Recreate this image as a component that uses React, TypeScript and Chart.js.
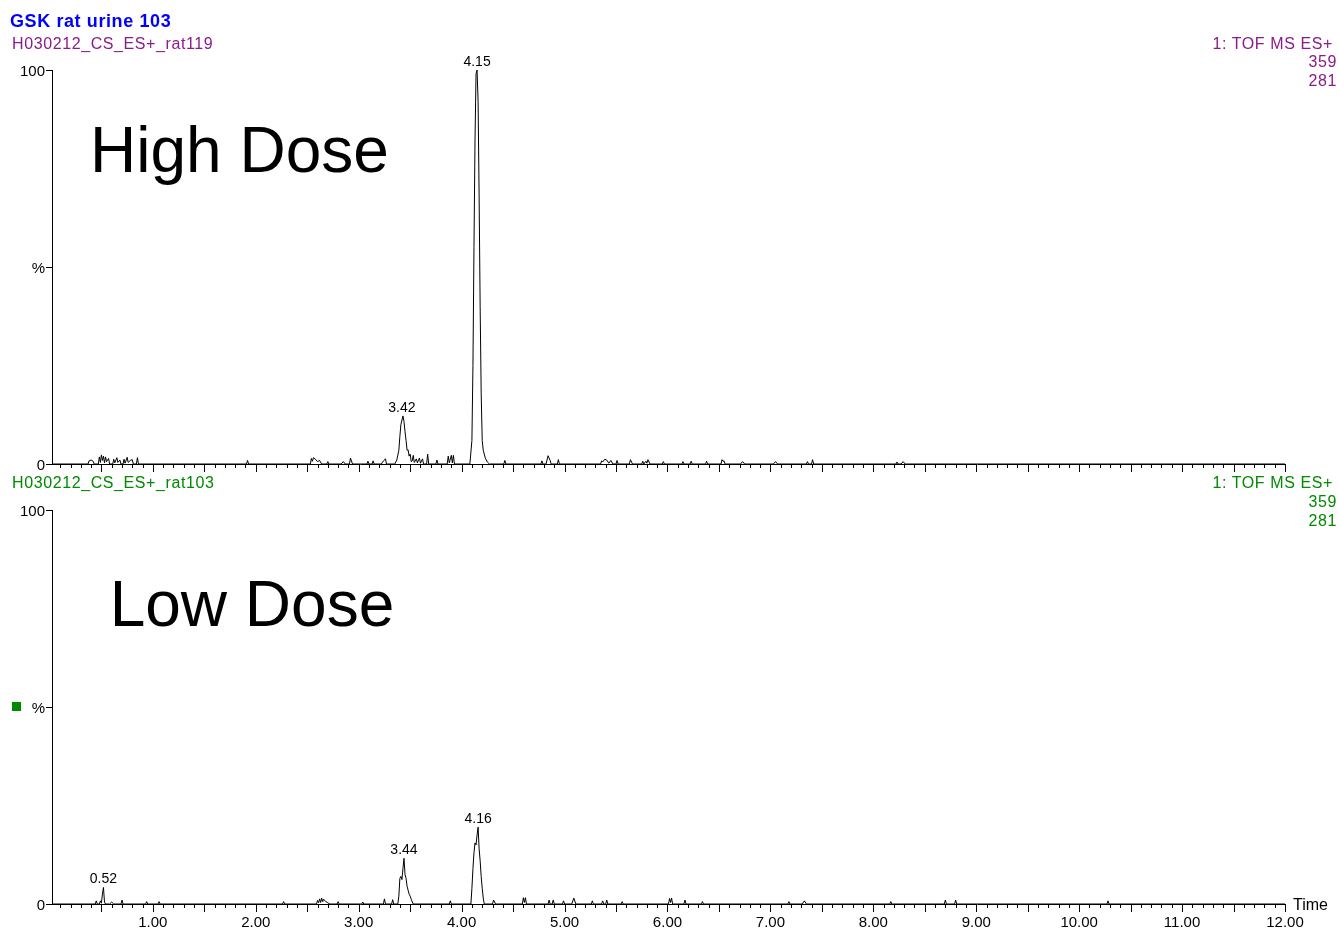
import React, { useEffect, useRef } from 'react';
import { Chart, registerables } from 'chart.js';

Chart.register(...registerables);

// ---------------- data ----------------
const TIME_MIN = 0.02;
const TIME_MAX = 12.0;
const timeLabelValues = [1, 2, 3, 4, 5, 6, 7, 8, 9, 10, 11, 12];
const yTickValues = [0, 50, 100];
const yTickText = ['0', '%', '100'];

const highDoseTrace: [number, number][] = [
  [0.02, 0], [0.37, 0], [0.38, 0.8], [0.40, 1.0], [0.42, 0.7], [0.43, 0],
  [0.47, 0], [0.48, 1.8], [0.49, 0.4], [0.50, 2.3], [0.51, 0.9], [0.52, 2.0], [0.53, 0.3], [0.54, 1.8], [0.55, 0.6], [0.57, 1.4], [0.58, 0],
  [0.61, 0], [0.62, 1.2], [0.63, 0.3], [0.65, 1.6], [0.66, 0.4], [0.68, 1.0], [0.69, 0],
  [0.71, 0], [0.72, 1.2], [0.73, 0.2], [0.75, 1.7], [0.76, 0.4], [0.78, 0.9], [0.80, 1.1], [0.81, 0],
  [0.84, 0], [0.85, 1.6], [0.86, 0],
  [1.91, 0], [1.92, 0.9], [1.93, 0],
  [2.53, 0], [2.54, 1.4], [2.55, 0.7], [2.56, 1.6], [2.58, 1.2], [2.60, 0.6], [2.62, 0.9], [2.64, 0],
  [2.69, 0], [2.70, 0.6], [2.71, 0],
  [2.83, 0], [2.85, 0.6], [2.87, 0],
  [2.91, 0], [2.92, 1.5], [2.94, 0],
  [3.08, 0], [3.09, 0.7], [3.10, 0],
  [3.13, 0], [3.14, 0.8], [3.15, 0],
  [3.22, 0], [3.24, 0.8], [3.26, 1.3], [3.27, 0],
  [3.35, 0], [3.37, 1.0], [3.39, 3.5], [3.40, 7.0], [3.41, 10.0], [3.43, 12.2], [3.44, 10.8], [3.45, 8.2], [3.46, 6.0], [3.47, 3.5], [3.48, 3.6], [3.49, 2.0], [3.50, 2.5], [3.51, 0.6], [3.52, 0.8], [3.53, 2.2], [3.54, 0.4], [3.56, 1.3], [3.57, 0.3], [3.59, 1.5], [3.60, 0.2], [3.62, 1.3], [3.63, 0],
  [3.66, 0], [3.67, 2.5], [3.68, 0],
  [3.75, 0], [3.76, 1.0], [3.77, 0],
  [3.86, 0], [3.87, 2.0], [3.88, 0.3], [3.90, 2.2], [3.91, 0.3], [3.92, 2.2], [3.93, 0],
  [4.08, 0], [4.10, 6], [4.11, 25], [4.12, 55], [4.13, 82], [4.14, 99], [4.15, 100], [4.16, 92], [4.17, 68], [4.18, 40], [4.19, 18], [4.20, 6], [4.21, 3.5], [4.23, 1.5], [4.25, 0.5], [4.27, 0],
  [4.41, 0], [4.42, 0.9], [4.43, 0],
  [4.77, 0], [4.78, 0.8], [4.79, 0],
  [4.82, 0], [4.84, 2.1], [4.86, 0.9], [4.87, 0],
  [4.93, 0], [4.94, 1.1], [4.95, 0],
  [5.35, 0], [5.36, 0.8], [5.37, 0.5], [5.39, 1.2], [5.41, 1.0], [5.43, 0.2], [5.45, 0.9], [5.47, 0],
  [5.50, 0], [5.51, 0.9], [5.52, 0],
  [5.63, 0], [5.64, 1.1], [5.66, 0],
  [5.75, 0], [5.76, 0.7], [5.77, 0], [5.79, 0.7], [5.80, 0.2], [5.81, 1.1], [5.83, 0],
  [5.95, 0], [5.96, 0.6], [5.97, 0],
  [6.14, 0], [6.15, 0.6], [6.16, 0],
  [6.22, 0], [6.23, 0.7], [6.24, 0],
  [6.37, 0], [6.38, 0.7], [6.39, 0],
  [6.52, 0], [6.53, 1.1], [6.54, 0.7], [6.55, 0.8], [6.56, 0],
  [6.71, 0], [6.73, 0.6], [6.75, 0],
  [7.03, 0], [7.05, 0.6], [7.07, 0],
  [7.35, 0], [7.36, 0.6], [7.37, 0], [7.40, 0], [7.41, 1.1], [7.42, 0],
  [8.22, 0], [8.23, 0.5], [8.24, 0], [8.27, 0], [8.29, 0.6], [8.31, 0],
  [12.0, 0],
];

const lowDoseTrace: [number, number][] = [
  [0.02, 0], [0.44, 0], [0.45, 0.8], [0.46, 0], [0.48, 0], [0.49, 0.8], [0.50, 0.2], [0.51, 2.5], [0.52, 4.2], [0.53, 0.5], [0.54, 0],
  [0.58, 0], [0.60, 0.5], [0.62, 0],
  [0.69, 0], [0.70, 1.0], [0.71, 0],
  [0.93, 0], [0.94, 0.6], [0.95, 0],
  [1.05, 0], [1.06, 0.6], [1.07, 0],
  [2.26, 0], [2.27, 0.6], [2.28, 0],
  [2.59, 0], [2.60, 0.9], [2.61, 0.3], [2.62, 1.3], [2.63, 0.4], [2.64, 1.5], [2.65, 0.6], [2.66, 1.2], [2.68, 0.6], [2.70, 0.3], [2.72, 0],
  [2.79, 0], [2.80, 0.6], [2.81, 0],
  [3.03, 0], [3.04, 0.5], [3.05, 0],
  [3.24, 0], [3.25, 1.3], [3.26, 0],
  [3.32, 0], [3.33, 1.1], [3.34, 0],
  [3.38, 0], [3.39, 2.0], [3.40, 6.5], [3.41, 7.0], [3.42, 6.2], [3.43, 9.0], [3.44, 11.6], [3.45, 7.5], [3.46, 6.5], [3.47, 4.5], [3.48, 3.5], [3.49, 2.5], [3.50, 2.0], [3.51, 1.2], [3.53, 0],
  [3.88, 0], [3.89, 0.8], [3.90, 0],
  [4.09, 0], [4.10, 4], [4.11, 9], [4.12, 13], [4.13, 15.5], [4.14, 15.0], [4.15, 17.5], [4.16, 19.5], [4.17, 14], [4.18, 11], [4.19, 7], [4.20, 4], [4.21, 1.5], [4.22, 0],
  [4.30, 0], [4.31, 1.0], [4.33, 0],
  [4.59, 0], [4.60, 1.6], [4.61, 0.4], [4.62, 1.6], [4.63, 0],
  [4.84, 0], [4.85, 1.0], [4.86, 0],
  [4.88, 0], [4.89, 1.0], [4.90, 0],
  [4.98, 0], [4.99, 0.8], [5.00, 0],
  [5.07, 0], [5.09, 1.5], [5.11, 0],
  [5.26, 0], [5.27, 0.8], [5.28, 0],
  [5.36, 0], [5.37, 0.8], [5.38, 0], [5.40, 0], [5.41, 1.0], [5.42, 0],
  [5.55, 0], [5.56, 0.6], [5.57, 0],
  [6.01, 0], [6.02, 1.4], [6.03, 0.4], [6.04, 1.5], [6.05, 0],
  [6.16, 0], [6.17, 1.0], [6.18, 0],
  [6.33, 0], [6.34, 0.6], [6.35, 0],
  [7.17, 0], [7.18, 0.6], [7.19, 0],
  [7.31, 0], [7.33, 0.8], [7.35, 0],
  [8.16, 0], [8.17, 0.6], [8.18, 0],
  [8.69, 0], [8.70, 1.0], [8.71, 0],
  [8.79, 0], [8.80, 1.0], [8.81, 0],
  [10.27, 0], [10.28, 0.8], [10.29, 0],
  [12.0, 0],
];

const highDosePeakTimes = [3.42, 4.15];
const highDosePeakHeights = [12.2, 100];
const lowDosePeakTimes = [0.52, 3.44, 4.16];
const lowDosePeakHeights = [4.2, 11.6, 19.5];

// ---------------- drawing ----------------
const FONT = '"Liberation Sans", Arial, Helvetica, sans-serif';

const chromPlugin = {
  id: 'chrom',
  afterDraw(chart: any, _args: any, opts: any) {
    const { ctx, chartArea, scales } = chart;
    const x = scales.x;
    const y = scales.y;
    ctx.save();
    // minor / major time ticks
    ctx.strokeStyle = '#000';
    ctx.lineWidth = 1;
    for (let i = 1; i <= 120; i++) {
      const px = Math.round(x.getPixelForValue(i / 10)) + 0.5;
      const len = i % 5 === 0 ? 8 : 4;
      ctx.beginPath();
      ctx.moveTo(px, chartArea.bottom);
      ctx.lineTo(px, chartArea.bottom + len);
      ctx.stroke();
    }
    // peak labels
    ctx.fillStyle = '#000';
    ctx.font = `14px ${FONT}`;
    ctx.textAlign = 'center';
    ctx.textBaseline = 'alphabetic';
    const times: number[] = opts.peakTimes || [];
    const heights: number[] = opts.peakHeights || [];
    times.forEach((t, i) => {
      ctx.fillText(t.toFixed(2), x.getPixelForValue(t), y.getPixelForValue(heights[i]) - 4);
    });
    // dose annotation
    if (opts.doseText) {
      ctx.font = `64px ${FONT}`;
      ctx.textAlign = 'left';
      ctx.fillText(opts.doseText, x.getPixelForValue(opts.doseAt[0]), y.getPixelForValue(opts.doseAt[1]));
    }
    if (opts.timeTitle) {
      ctx.font = `16px ${FONT}`;
      ctx.textAlign = 'left';
      ctx.textBaseline = 'middle';
      ctx.fillText(opts.timeTitle, chartArea.right + 8, chartArea.bottom + 2);
    }
    ctx.restore();
  },
};

function makeConfig(trace: [number, number][], showTimeLabels: boolean, xAxisHeight: number, padTop: number, pluginOpts: any) {
  return {
    type: 'line',
    data: {
      datasets: [
        {
          data: trace.map(([t, v]) => ({ x: t, y: v })),
          borderColor: '#000',
          borderWidth: 1,
          pointRadius: 0,
          tension: 0,
          fill: false,
        },
      ],
    },
    options: {
      responsive: false,
      animation: false,
      events: [],
      layout: { padding: { left: 0, right: 54, top: padTop, bottom: 0 } },
      plugins: { legend: { display: false }, tooltip: { enabled: false }, title: { display: false }, chrom: pluginOpts },
      scales: {
        x: {
          type: 'linear',
          min: TIME_MIN,
          max: TIME_MAX,
          afterFit: (scale: any) => { scale.height = xAxisHeight; },
          afterBuildTicks: (scale: any) => { scale.ticks = timeLabelValues.map((value) => ({ value })); },
          grid: { display: false, drawTicks: false },
          border: { display: true, color: '#000', width: 1 },
          ticks: {
            display: showTimeLabels,
            autoSkip: false,
            maxRotation: 0,
            padding: 10,
            color: '#000',
            font: { family: FONT, size: 15 },
            callback: (v: any) => Number(v).toFixed(2),
          },
        },
        y: {
          type: 'linear',
          min: 0,
          max: 100,
          afterFit: (scale: any) => { scale.width = 52; },
          afterBuildTicks: (scale: any) => { scale.ticks = yTickValues.map((value) => ({ value })); },
          grid: { display: true, drawOnChartArea: false, drawTicks: true, tickLength: 6, color: '#000', tickColor: '#000' },
          border: { display: true, color: '#000', width: 1 },
          ticks: {
            padding: 1,
            labelOffset: 2,
            color: '#000',
            font: { family: FONT, size: 15 },
            callback: (v: any) => yTickText[yTickValues.indexOf(Number(v))] ?? '',
          },
        },
      },
    },
    plugins: [chromPlugin],
  };
}

function ChromCanvas(props: { top: number; height: number; config: () => any }) {
  const ref = useRef<HTMLCanvasElement | null>(null);
  useEffect(() => {
    if (!ref.current) return;
    const chart = new Chart(ref.current, props.config());
    return () => chart.destroy();
  }, []);
  return (
    <canvas
      ref={ref}
      width={1339}
      height={props.height}
      style={{ position: 'absolute', left: 0, top: props.top, width: 1339, height: props.height }}
    />
  );
}

const txt = (style: React.CSSProperties): React.CSSProperties => ({
  position: 'absolute',
  fontFamily: FONT,
  whiteSpace: 'nowrap',
  ...style,
});

export default function App() {
  const purple = '#8b1a8b';
  const green = '#008a00';
  const sub = { fontSize: 16, lineHeight: '16px', letterSpacing: '0.6px' };
  return (
    <div style={{ position: 'absolute', left: 0, top: 0, width: 1339, height: 932, background: '#fff', overflow: 'hidden' }}>
      <ChromCanvas
        top={0}
        height={474}
        config={() =>
          makeConfig(highDoseTrace, false, 10, 70, {
            peakTimes: highDosePeakTimes,
            peakHeights: highDosePeakHeights,
            doseText: 'High Dose',
            doseAt: [0.39, 74],
          })
        }
      />
      <ChromCanvas
        top={474}
        height={458}
        config={() =>
          makeConfig(lowDoseTrace, true, 28, 36, {
            peakTimes: lowDosePeakTimes,
            peakHeights: lowDosePeakHeights,
            doseText: 'Low Dose',
            doseAt: [0.58, 70.6],
            timeTitle: 'Time',
          })
        }
      />
      <div style={txt({ left: 10, top: 12, fontSize: 18, lineHeight: '18px', letterSpacing: '0.6px', fontWeight: 'bold', color: '#0000ff' })}>GSK rat urine 103</div>
      <div style={txt({ left: 12, top: 36, color: purple, ...sub })}>H030212_CS_ES+_rat119</div>
      <div style={txt({ right: 6, top: 36, color: purple, ...sub })}>1: TOF MS ES+</div>
      <div style={txt({ right: 2, top: 54, color: purple, ...sub })}>359</div>
      <div style={txt({ right: 2, top: 73, color: purple, ...sub })}>281</div>
      <div style={txt({ left: 12, top: 475, color: green, ...sub })}>H030212_CS_ES+_rat103</div>
      <div style={txt({ right: 6, top: 475, color: green, ...sub })}>1: TOF MS ES+</div>
      <div style={txt({ right: 2, top: 494, color: green, ...sub })}>359</div>
      <div style={txt({ right: 2, top: 513, color: green, ...sub })}>281</div>
      <div style={{ position: 'absolute', left: 12, top: 702, width: 9, height: 9, background: green }} />
    </div>
  );
}
